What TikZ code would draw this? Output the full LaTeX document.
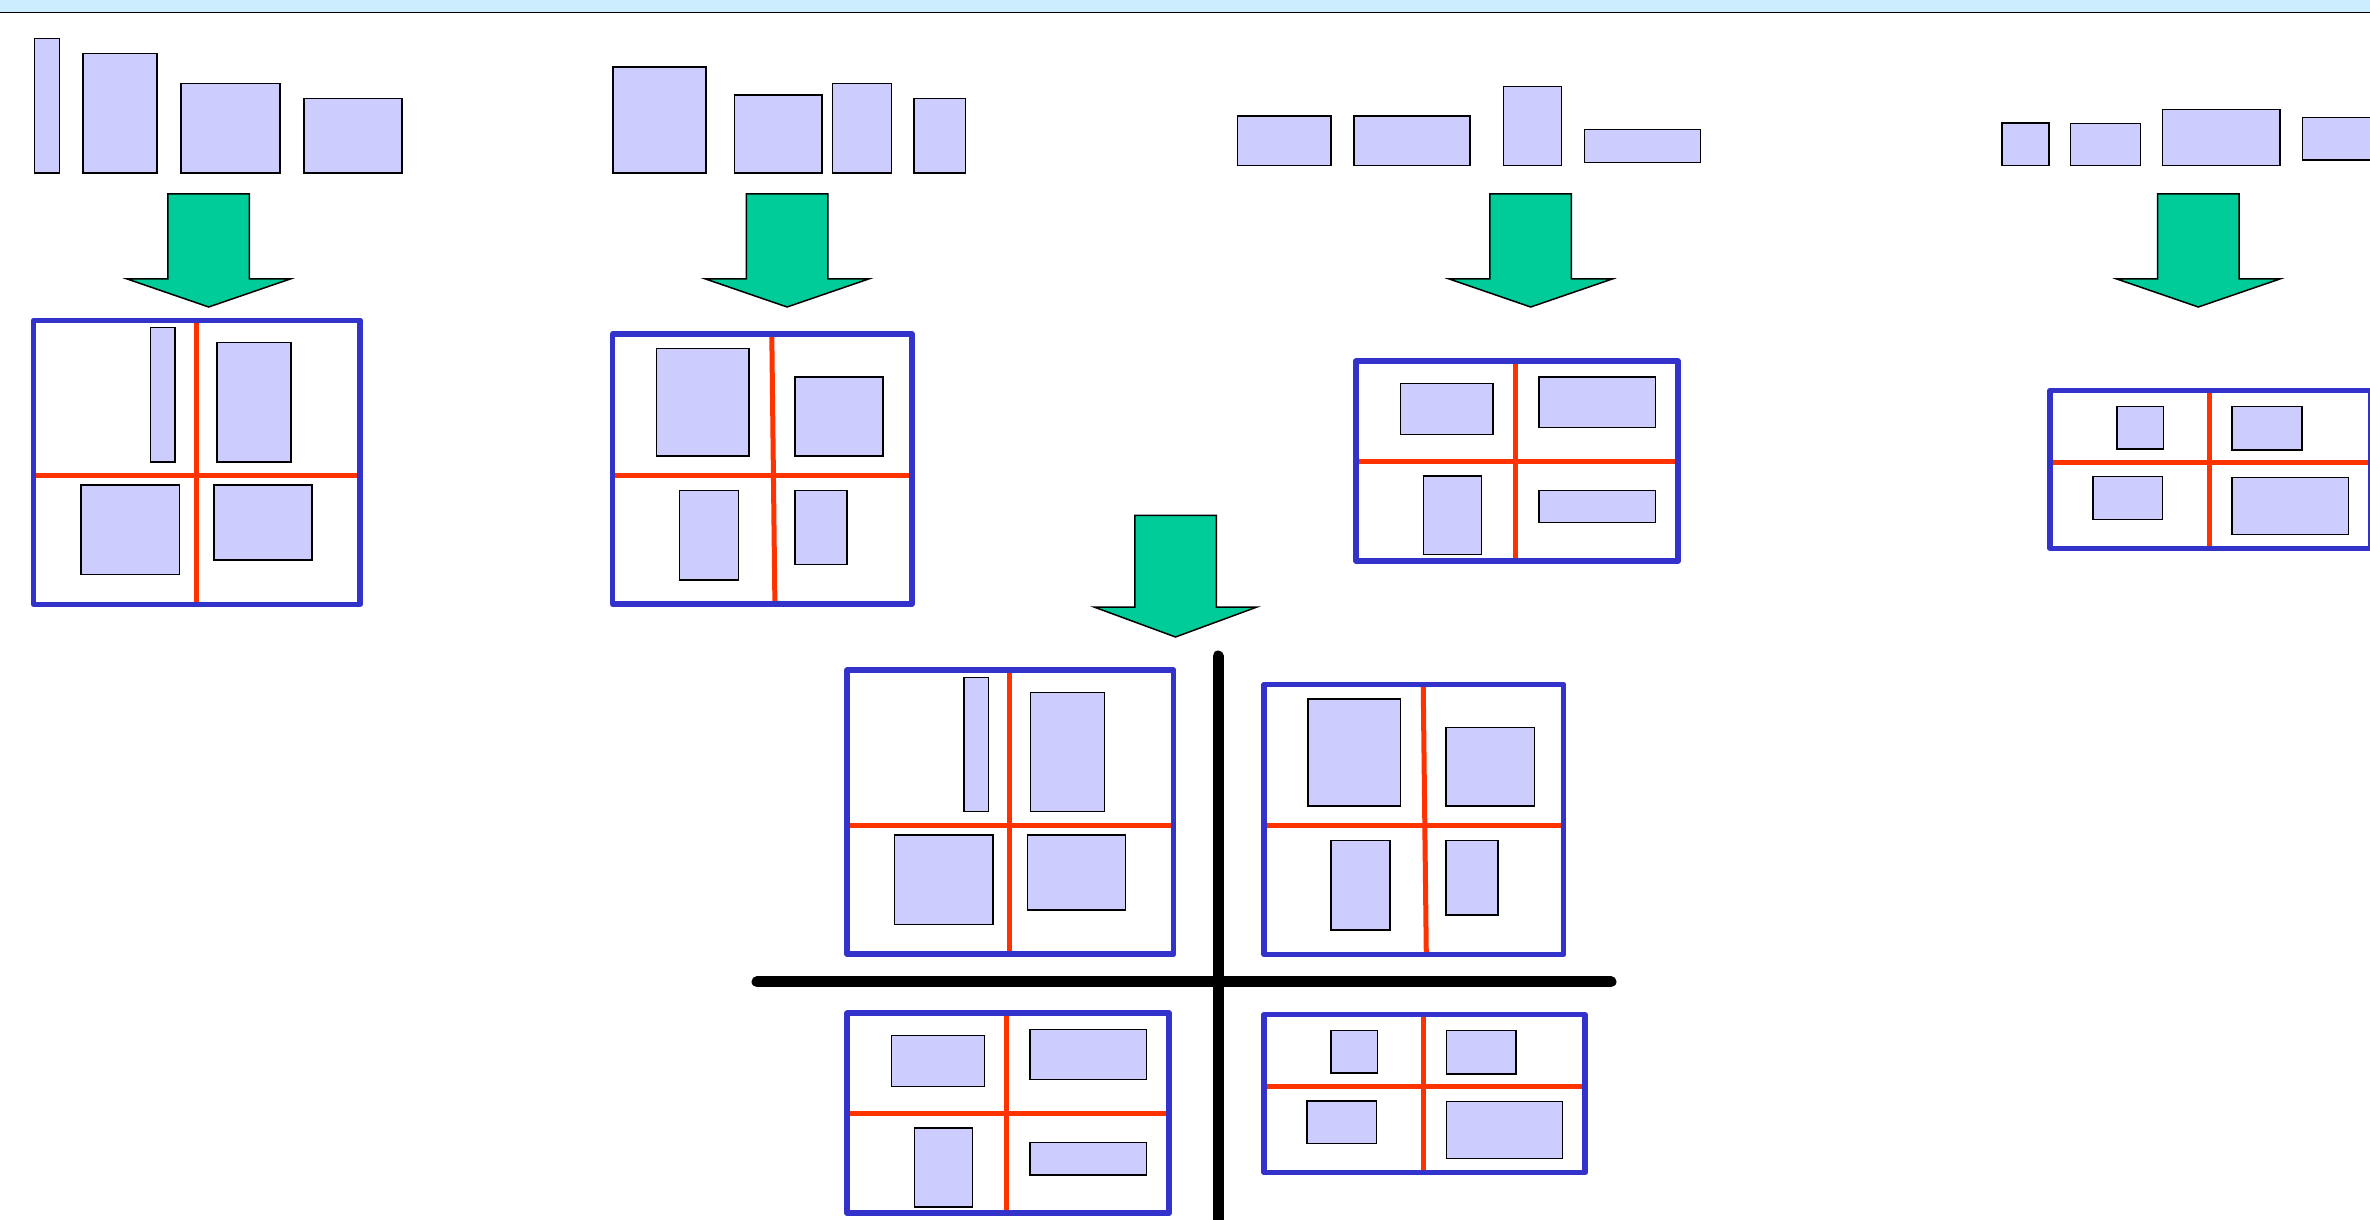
\documentclass[tikz,border=0pt]{standalone}
\usepackage{tikz}

\definecolor{piecefill}{HTML}{CCCCFF}
\definecolor{binblue}{HTML}{3333CC}
\definecolor{splitred}{HTML}{FF3300}
\definecolor{arrowgreen}{HTML}{00CC99}
\definecolor{barblue}{HTML}{CCECFF}

\tikzset{
  piecebox/.style={draw=black,fill=piecefill,line width=0.15mm},
  binframe/.style={draw=binblue,line width=0.55mm,line join=round},
  splitline/.style={draw=splitred,line width=0.5mm},
  downarrow/.style={draw=black,fill=arrowgreen,line width=0.15mm},
  crossline/.style={draw=black,line width=1.1mm,line cap=round},
}

% green block arrow: centre x, top, shoulder, tip
\newcommand{\greenarrow}[4]{%
  \draw[downarrow] (#1-40.75,#2)--(#1+40.75,#2)--(#1+40.75,#3)--(#1+81.5,#3)
    --(#1,#4)--(#1-81.5,#3)--(#1-40.75,#3)--cycle;
}

% the four packed bins, drawn from their top left corner
\newcommand{\binA}{%
  \draw[splitline] (162.7,0)--(162.7,284);
  \draw[splitline] (0,155.4)--(326.5,155.4);
  \draw[piecebox] (116.8,7.1) rectangle (141.3,141.5);
  \draw[piecebox] (183.1,22.1) rectangle (257.1,141.5);
  \draw[piecebox] (47.4,164.9) rectangle (145.9,254.2);
  \draw[piecebox] (180.1,164.9) rectangle (278.5,239.6);
  \draw[binframe] (0,0) rectangle (326.5,284);
}
\newcommand{\binB}{%
  \draw[splitline] (159.1,0)--(162.2,270.1);
  \draw[splitline] (0,141.6)--(299.4,141.6);
  \draw[piecebox] (43.8,14.6) rectangle (136.2,121.8);
  \draw[piecebox] (182.1,43.1) rectangle (270.4,121.8);
  \draw[piecebox] (66.8,156.2) rectangle (126,245.9);
  \draw[piecebox] (182.1,156.2) rectangle (234.1,230.5);
  \draw[binframe] (0,0) rectangle (299.4,270.1);
}
\newcommand{\binC}{%
  \draw[splitline] (159.6,0)--(159.6,200);
  \draw[splitline] (0,100.5)--(322,100.5);
  \draw[piecebox] (44.3,22.5) rectangle (137.1,73.5);
  \draw[piecebox] (182.8,16.2) rectangle (299.5,66.4);
  \draw[piecebox] (67.5,115) rectangle (125.5,193.7);
  \draw[piecebox] (182.8,129.3) rectangle (299.5,161.7);
  \draw[binframe] (0,0) rectangle (322,200);
}
\newcommand{\binD}{%
  \draw[splitline] (159.3,0)--(159.3,158);
  \draw[splitline] (0,72)--(321,72);
  \draw[piecebox] (66.9,15.8) rectangle (113.3,58.5);
  \draw[piecebox] (182.2,15.8) rectangle (251.8,59.3);
  \draw[piecebox] (43,86.2) rectangle (112.6,128.9);
  \draw[piecebox] (182.2,87) rectangle (298.3,143.9);
  \draw[binframe] (0,0) rectangle (321,158);
}

\begin{document}
\begin{tikzpicture}[x=0.1mm,y=-0.1mm]
  \useasboundingbox (0,0) rectangle (2370,1220);
  \clip (0,0) rectangle (2370,1220);

  % title bar
  \fill[barblue] (0,0) rectangle (2370,12.7);
  \draw[line width=0.16mm] (0,12.7)--(2370,12.7);

  % unpacked pieces
  \draw[piecebox] (34.7,38.7) rectangle (59.7,173.2);
  \draw[piecebox] (83.2,53.4) rectangle (157.1,173.2);
  \draw[piecebox] (181.1,83.4) rectangle (280.1,173.2);
  \draw[piecebox] (304.1,98.5) rectangle (402,173.2);

  \draw[piecebox] (613.2,66.8) rectangle (706,173.2);
  \draw[piecebox] (734.6,94.9) rectangle (821.8,173.2);
  \draw[piecebox] (832.5,83.4) rectangle (891.7,173.2);
  \draw[piecebox] (914.2,98.5) rectangle (965.7,173.2);

  \draw[piecebox] (1237.6,115.9) rectangle (1331,165.7);
  \draw[piecebox] (1353.9,115.9) rectangle (1469.9,165.7);
  \draw[piecebox] (1503.4,86.6) rectangle (1561.4,165.7);
  \draw[piecebox] (1584.6,129.3) rectangle (1700.6,162.5);

  \draw[piecebox] (2002,123) rectangle (2049,165.7);
  \draw[piecebox] (2070.7,123.7) rectangle (2140.3,165.7);
  \draw[piecebox] (2162.7,109.3) rectangle (2280,165.7);
  \draw[piecebox] (2302.3,117.3) rectangle (2371.5,160);

  % packing steps
  \greenarrow{208.7}{194}{279}{307}
  \greenarrow{787.1}{194}{279}{307}
  \greenarrow{1530.7}{194}{279}{307}
  \greenarrow{2198.3}{194}{279}{307}
  \greenarrow{1175.5}{515.4}{607}{637}

  % packed bins
  \begin{scope}[shift={(33.7,320.3)}] \binA \end{scope}
  \begin{scope}[shift={(612.7,334.1)}] \binB \end{scope}
  \begin{scope}[shift={(1356,361)}] \binC \end{scope}
  \begin{scope}[shift={(2050,390.5)}] \binD \end{scope}

  % combined into one big bin
  \draw[crossline] (1218,656)--(1218,1260);
  \draw[crossline] (757,981.8)--(1611,981.8);
  \begin{scope}[shift={(847.2,670.2)}] \binA \end{scope}
  \begin{scope}[shift={(1264.1,684.3)}] \binB \end{scope}
  \begin{scope}[shift={(847.2,1013.2)}] \binC \end{scope}
  \begin{scope}[shift={(1264.1,1014.7)}] \binD \end{scope}
\end{tikzpicture}
\end{document}
